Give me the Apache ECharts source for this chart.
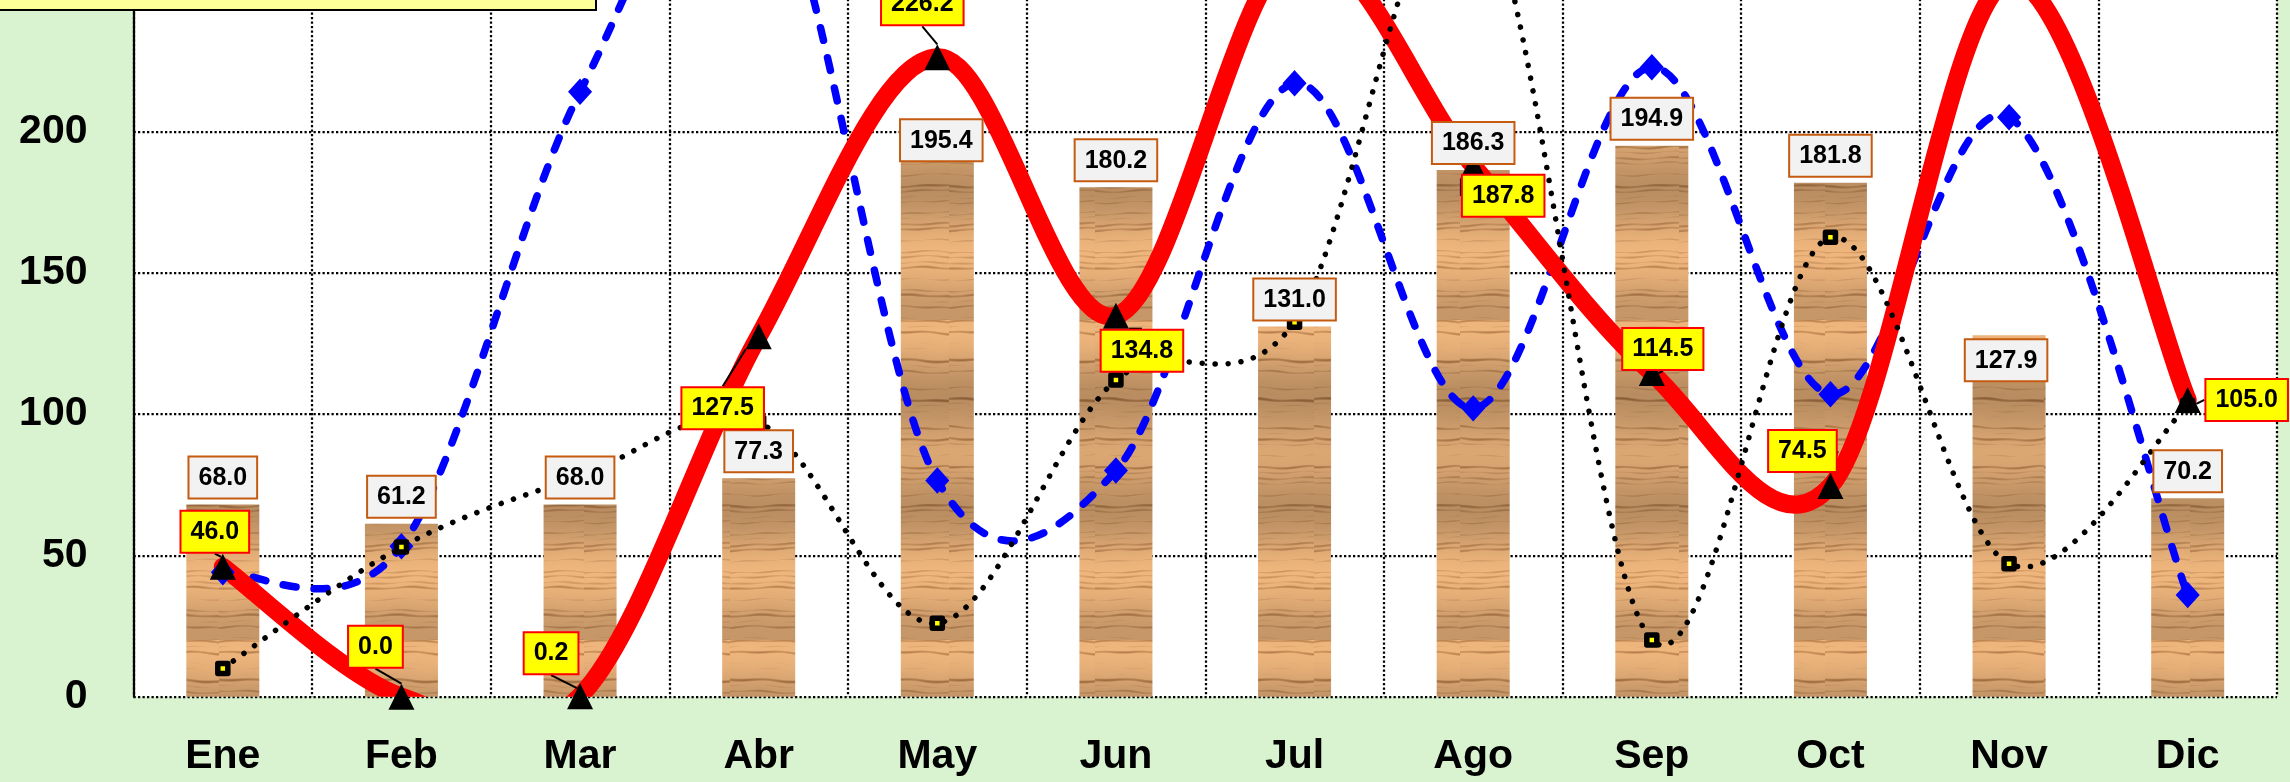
<!DOCTYPE html>
<html>
<head>
<meta charset="utf-8">
<title>Chart</title>
<script src="https://cdn.jsdelivr.net/npm/echarts@6.0.0/dist/echarts.min.js"></script>
<style>
  html, body { margin: 0; padding: 0; background: #D9F2D0; }
  #chart { width: 2290px; height: 782px; }
</style>
</head>
<body>
<div id="chart"></div>
<script>
// datos
const months = ['Ene', 'Feb', 'Mar', 'Abr', 'May', 'Jun', 'Jul', 'Ago', 'Sep', 'Oct', 'Nov', 'Dic']
const barValues = [68.0, 61.2, 68.0, 77.3, 195.4, 180.2, 131.0, 186.3, 194.9, 181.8, 127.9, 70.2]
const redValues = [46.0, 0.0, 0.2, 127.5, 226.2, 134.8, 264, 187.8, 114.5, 74.5, 253.5, 105.0]
const blueValues = [44, 53.2, 214, 300, 76.5, 80, 217, 102, 222.7, 107, 205, 36]
const dotValues = [10, 53, 78, 97, 26, 112, 132.5, 288, 20.1, 162.5, 47, 103]
const yTicks = [0, 50, 100, 150, 200, 250]

// desplazamiento de etiquetas (px)
const redTagShift = [[-8, -35], [-26, -50], [-29, -43], [-36, 72], [-15, -53], [26, 35], [0, -45], [30, 30], [11, -24], [-28, -35], [0, -45], [59, 0]]
const barTagShift = [[0, 0], [0, 0], [0, 0], [0, 0], [4, 23], [0, 0], [0, 0], [0, 0], [0, 0], [0, 0], [-3, 52], [0, 0]]

const FONT = "'Liberation Sans', Arial, sans-serif"

// textura de madera para las barras (vetas horizontales)
const woodGrain = () => {
  const c = document.createElement('canvas')
  c.width = 73
  c.height = 320
  const ctx = c.getContext('2d')
  const img = ctx.createImageData(c.width, c.height)
  const light = [218, 166, 114]
  const dark = [140, 88, 44]
  for (let y = 0; y < c.height; y++) {
    for (let x = 0; x < c.width; x++) {
      const yy = y + 1.2 * Math.sin(x / 21 + y / 47) + 0.6 * Math.sin(x / 7.3 + y / 13)
      let t = 0.45 * Math.sin(yy * 1.13) + 0.35 * Math.sin(yy * 0.47 + 1.7) +
        0.3 * Math.sin(yy * 0.173 + 0.4) + 0.12 * Math.sin(x * 0.13 + yy * 0.31)
      let d = Math.min(1, Math.max(0, (t - 0.3) * 0.8))
      const band = 0.09 * Math.sin(yy * 0.052 + 1) + 0.05 * Math.sin(yy * 0.021 + 2) - 0.04
      const i = (y * c.width + x) * 4
      for (let k = 0; k < 3; k++) {
        let v = light[k] * (1 - d) + dark[k] * d
        v = v * (1 + band)
        img.data[i + k] = Math.max(0, Math.min(255, v))
      }
      img.data[i + 3] = 255
    }
  }
  ctx.putImageData(img, 0, 0)
  return c
}

// curva suavizada tipo Excel (bezier con tangente (P[i+1]-P[i-1])/6)
const curve = (values, style, z) => {
  return {
    type: 'custom',
    z: z,
    clip: true,
    silent: true,
    data: [[0, 0]],
    encode: {x: 0, y: 1},
    renderItem: (params, api) => {
      let pts = values.map((v, i) => api.coord([i, v]))
      let n = pts.length
      let d = 'M' + pts[0][0] + ' ' + pts[0][1]
      for (let i = 0; i < n - 1; i++) {
        let p0 = pts[Math.max(i - 1, 0)]
        let p1 = pts[i]
        let p2 = pts[i + 1]
        let p3 = pts[Math.min(i + 2, n - 1)]
        let c1 = [p1[0] + (p2[0] - p0[0]) / 6, p1[1] + (p2[1] - p0[1]) / 6]
        let c2 = [p2[0] - (p3[0] - p1[0]) / 6, p2[1] - (p3[1] - p1[1]) / 6]
        d += ' C' + c1[0] + ' ' + c1[1] + ' ' + c2[0] + ' ' + c2[1] + ' ' + p2[0] + ' ' + p2[1]
      }
      return {
        type: 'path',
        shape: {pathData: d},
        style: Object.assign({fill: 'none', lineJoin: 'round', lineCap: 'round'}, style)
      }
    }
  }
}

const tagStyle = (bg, border) => ({
  show: true,
  formatter: p => Number(p.value).toFixed(1),
  fontFamily: FONT,
  fontSize: 25,
  fontWeight: 'bold',
  color: '#000',
  backgroundColor: bg,
  borderColor: border,
  borderWidth: 2,
  padding: [7, 9, 6, 9],
  lineHeight: 27
})

const gridLine = {color: '#000', width: 2.25, type: [2.25, 2.25]}

const chart = echarts.init(document.getElementById('chart'))
const wood = woodGrain()

const option = {
  animation: false,
  backgroundColor: '#D9F2D0',
  grid: {
    left: 133.5,
    right: 13,
    top: -10,
    bottom: 85.3,
    show: true,
    backgroundColor: '#fff',
    borderWidth: 0,
    containLabel: false,
    outerBoundsMode: 'none'
  },
  xAxis: {
    type: 'category',
    data: months,
    axisLine: {show: false},
    axisTick: {show: false},
    axisLabel: {fontFamily: FONT, fontSize: 41, fontWeight: 'bold', color: '#000', margin: 39},
    splitLine: {show: true, interval: 0, lineStyle: gridLine}
  },
  yAxis: {
    type: 'value',
    min: yTicks[0],
    max: yTicks[yTicks.length - 1],
    interval: 50,
    axisLine: {show: true, lineStyle: {color: '#000', width: 2.25}},
    axisTick: {show: false},
    axisLabel: {fontFamily: FONT, fontSize: 41, fontWeight: 'bold', color: '#000', margin: 46, showMaxLabel: false},
    splitLine: {show: true, lineStyle: gridLine}
  },
  graphic: [{
    type: 'rect',
    z: 100,
    shape: {x: -5, y: -30, width: 601, height: 40},
    style: {fill: '#FFFF99', stroke: '#000', lineWidth: 2}
  }],
  series: [
    {
      name: 'barras',
      type: 'bar',
      z: 2,
      data: barValues,
      barWidth: 73,
      barGap: '-100%',
      itemStyle: {color: {image: wood, repeat: 'repeat'}}
    },
    curve(blueValues, {stroke: '#0000FF', lineWidth: 7.5, lineDash: [13, 18]}, 3),
    curve(redValues, {stroke: '#FF0000', lineWidth: 18}, 4),
    curve(dotValues, {stroke: '#000', lineWidth: 5.5, lineDash: [0.1, 12.9]}, 5),
    {
      name: 'azul',
      type: 'line',
      z: 6,
      data: blueValues,
      symbol: 'diamond',
      symbolSize: [20, 22],
      showAllSymbol: true,
      lineStyle: {opacity: 0},
      itemStyle: {color: '#0000FF', borderColor: '#0000FF', borderWidth: 3}
    },
    {
      name: 'puntos',
      type: 'line',
      z: 7,
      data: dotValues,
      symbol: 'rect',
      symbolSize: 10,
      showAllSymbol: true,
      lineStyle: {opacity: 0},
      itemStyle: {color: '#FFFF00', borderColor: '#000', borderWidth: 5.5, borderJoin: 'round'}
    },
    {
      name: 'rojo',
      type: 'line',
      z: 8,
      data: redValues,
      symbol: 'triangle',
      symbolSize: 26,
      showAllSymbol: true,
      lineStyle: {opacity: 0},
      itemStyle: {color: '#000'}
    },
    {
      name: 'etiquetas barras',
      type: 'bar',
      z: 9,
      data: barValues,
      barWidth: 73,
      barGap: '-100%',
      silent: true,
      itemStyle: {color: 'rgba(0,0,0,0)'},
      label: Object.assign(tagStyle('#F2F2F2', '#C55A11'), {position: 'top', distance: 7}),
      labelLayout: p => ({dx: barTagShift[p.dataIndex][0], dy: barTagShift[p.dataIndex][1]})
    },
    {
      name: 'etiquetas rojo',
      type: 'line',
      z: 10,
      data: redValues,
      symbol: 'triangle',
      symbolSize: 26,
      showAllSymbol: true,
      silent: true,
      lineStyle: {opacity: 0},
      itemStyle: {color: 'rgba(0,0,0,0)'},
      label: Object.assign(tagStyle('#FFFF00', '#FF0000'), {position: 'inside'}),
      labelLine: {show: true, lineStyle: {color: '#000', width: 2}},
      labelLayout: p => ({dx: redTagShift[p.dataIndex][0], dy: redTagShift[p.dataIndex][1]})
    }
  ]
}

chart.setOption(option)
</script>
</body>
</html>
